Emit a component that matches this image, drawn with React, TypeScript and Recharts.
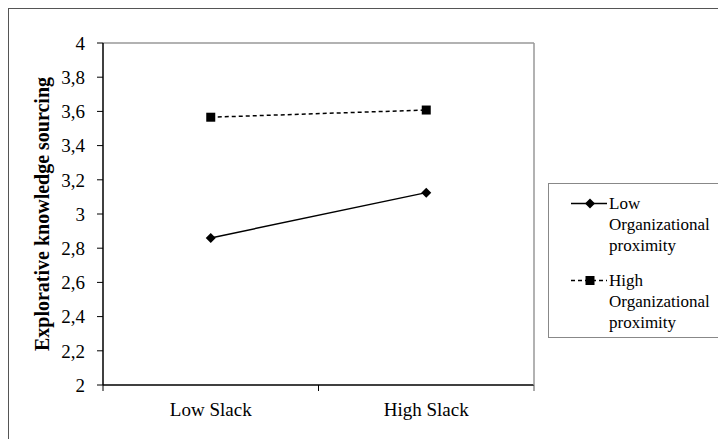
import { LineChart, Line, XAxis, YAxis, Legend } from 'recharts';

const categories = ['Low Slack', 'High Slack'];
const lowOrgProximity = [2.86, 3.125];
const highOrgProximity = [3.566, 3.608];
const yTicks = [2, 2.2, 2.4, 2.6, 2.8, 3, 3.2, 3.4, 3.6, 3.8, 4];
const seriesNames = ['Low Organizational proximity', 'High Organizational proximity'];
const yTitle = 'Explorative knowledge sourcing';

const data = categories.map((name, i) => ({
  name,
  low: lowOrgProximity[i],
  high: highOrgProximity[i],
}));

const W = 717;
const H = 430;
const MARGIN = { top: 33, right: 191, left: 0, bottom: 24 };
const Y_W = 94;
const X_H = 30;
const PLOT_W = W - MARGIN.left - MARGIN.right - Y_W - 1;
const HALF_BAND = PLOT_W / categories.length / 2;
const FONT = '"Liberation Serif", "Times New Roman", serif';

const fmt = (v: number) => String(+v.toFixed(1)).replace('.', ',');

const Diamond = ({ cx, cy }: any) => (
  <polygon points={`${cx},${cy - 5} ${cx + 5},${cy} ${cx},${cy + 5} ${cx - 5},${cy}`} fill="#000" />
);

const Square = ({ cx, cy }: any) => <rect x={cx - 4.5} y={cy - 4.5} width={9} height={9} fill="#000" />;

const XTick = ({ x, y, payload, index }: any) => {
  const last = index === categories.length - 1;
  return (
    <g>
      <line x1={x - HALF_BAND} x2={x - HALF_BAND} y1={y} y2={y + 6} stroke="#000" />
      {last && <line x1={x + HALF_BAND} x2={x + HALF_BAND} y1={y} y2={y + 6} stroke="#555" />}
      <text x={x} y={y + 31} textAnchor="middle" fontSize={19} fontFamily={FONT} fill="#000">
        {payload.value}
      </text>
    </g>
  );
};

const YTitle = ({ viewBox }: any) => {
  const cx = (viewBox?.x ?? 0) + 33;
  const cy = (viewBox?.y ?? 0) + (viewBox?.height ?? 0) / 2;
  return (
    <text
      x={cx}
      y={cy}
      transform={`rotate(-90 ${cx} ${cy})`}
      textAnchor="middle"
      dominantBaseline="central"
      fontSize={20}
      fontWeight="bold"
      fontFamily={FONT}
      fill="#000"
    >
      {yTitle}
    </text>
  );
};

const LegendBox = () => (
  <div
    style={{
      width: 174,
      height: 155,
      boxSizing: 'border-box',
      border: '1px solid #888',
      fontFamily: FONT,
      fontSize: 17,
      lineHeight: '21px',
      color: '#000',
      paddingTop: 9,
    }}
  >
    {seriesNames.map((name, i) => (
      <div key={name} style={{ display: 'flex', alignItems: 'flex-start', marginBottom: i === 0 ? 14 : 0 }}>
        <svg width={60} height={21} style={{ flex: 'none' }}>
          <line
            x1={22}
            x2={58}
            y1={10.5}
            y2={10.5}
            stroke="#000"
            strokeWidth={1.5}
            strokeDasharray={i === 1 ? '4 3' : undefined}
          />
          {i === 0 ? <Diamond cx={41} cy={10.5} /> : <Square cx={41} cy={10.5} />}
        </svg>
        <div style={{ width: 108 }}>{name}</div>
      </div>
    ))}
  </div>
);

export default function App() {
  return (
    <div
      style={{
        width: W,
        height: H,
        overflow: 'hidden',
        borderLeft: '1px solid #555',
        borderTop: '1px solid #555',
      }}
    >
      <LineChart width={W} height={H} data={data} margin={MARGIN}>
        <XAxis
          dataKey="name"
          height={X_H}
          padding={{ left: HALF_BAND, right: HALF_BAND }}
          axisLine={{ stroke: '#000', strokeWidth: 1.5 }}
          tickLine={false}
          tickSize={0}
          tickMargin={0}
          tick={(p: any) => <XTick {...p} />}
          interval={0}
        />
        <XAxis
          xAxisId="top"
          orientation="top"
          dataKey="name"
          height={1}
          padding={{ left: HALF_BAND, right: HALF_BAND }}
          tick={false}
          tickLine={false}
          axisLine={{ stroke: '#999', strokeWidth: 1.5 }}
        />
        <YAxis
          width={Y_W}
          domain={[2, 4]}
          ticks={yTicks}
          interval={0}
          tickFormatter={fmt}
          tickSize={6}
          tickMargin={12}
          tickLine={{ stroke: '#000' }}
          axisLine={{ stroke: '#000', strokeWidth: 1.5 }}
          tick={{ fontSize: 19, fill: '#000', fontFamily: FONT }}
          label={<YTitle />}
        />
        <YAxis
          yAxisId="right"
          orientation="right"
          width={1}
          domain={[2, 4]}
          tick={false}
          tickLine={false}
          axisLine={{ stroke: '#999', strokeWidth: 1.5 }}
        />
        <Legend
          layout="horizontal"
          verticalAlign="middle"
          align="center"
          wrapperStyle={{ left: 539, top: 174, width: 174, height: 155 }}
          content={() => <LegendBox />}
        />
        <Line
          dataKey="low"
          name={seriesNames[0]}
          stroke="#000"
          strokeWidth={1.5}
          dot={(p: any) => <Diamond key={`d${p.index}`} cx={p.cx} cy={p.cy} />}
          activeDot={false}
          isAnimationActive={false}
        />
        <Line
          dataKey="high"
          name={seriesNames[1]}
          stroke="#000"
          strokeWidth={1.5}
          strokeDasharray="4 3"
          dot={(p: any) => <Square key={`s${p.index}`} cx={p.cx} cy={p.cy} />}
          activeDot={false}
          isAnimationActive={false}
        />
      </LineChart>
    </div>
  );
}
